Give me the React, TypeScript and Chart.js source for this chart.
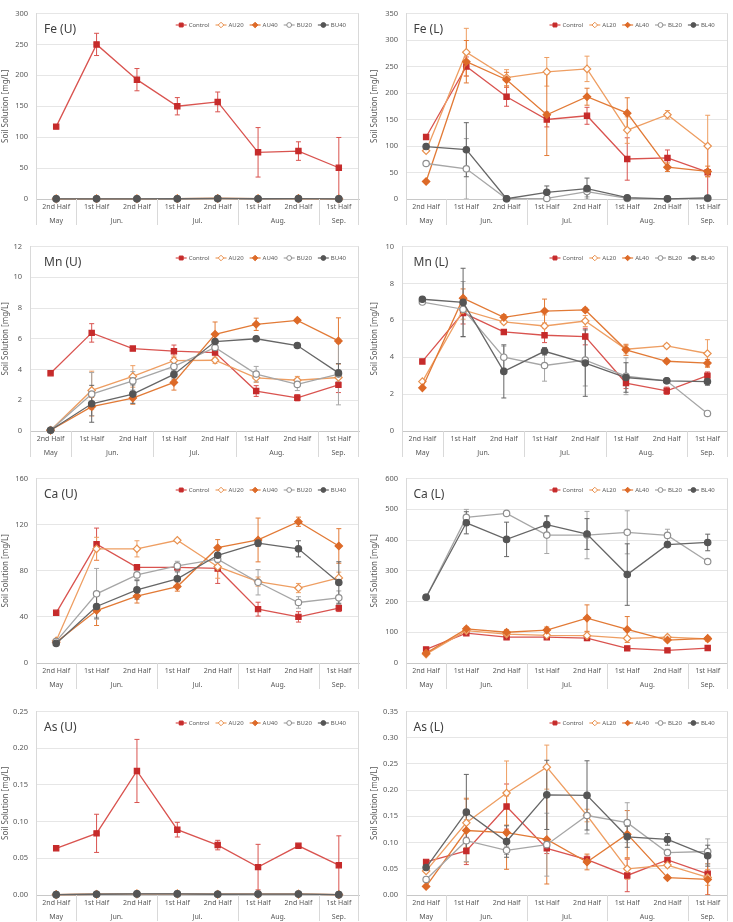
import React, { useEffect, useRef } from 'react';
import { Chart, registerables } from 'chart.js';

Chart.register(...registerables);

const FONT = "'Noto Sans', 'DejaVu Sans', sans-serif";

// ---- categories ----
const subLabels = ['2nd Half', '1st Half', '2nd Half', '1st Half', '2nd Half', '1st Half', '2nd Half', '1st Half'];
const monthLabels = ['May', 'Jun.', 'Jul.', 'Aug.', 'Sep.'];
const monthSpans = [1, 2, 2, 2, 1];
const namesU = ['Control', 'AU20', 'AU40', 'BU20', 'BU40'];
const namesL = ['Control', 'AL20', 'AL40', 'BL20', 'BL40'];
const yTitle = 'Soil Solution [mg/L]';

// ---- Fe (U) ----
const feU_Control = [117, 250, 193, 150, 157, 75.5, 77.5, 50.5];
const feU_ControlErr = [0, 18, 18, 14, 16, 40, 15, 49];
const feU_AU20 = [0.3, 0.5, 0.5, 0.6, 0.8, 0.6, 0.6, 0.3];
const feU_AU40 = [0.2, 0.4, 0.4, 0.5, 0.9, 0.5, 0.7, 0.2];
const feU_BU20 = [0.2, 0.3, 0.3, 0.4, 0.6, 0.4, 0.5, 0.2];
const feU_BU40 = [0.3, 0.3, 0.3, 0.4, 0.9, 0.4, 0.6, 0.2];
const feU_SmallErr = [0, 0, 0, 0, 0, 0, 0, 0];

// ---- Fe (L) ----
const feL_Control = [117, 250, 193, 150, 157, 75.5, 77.5, 50.5];
const feL_ControlErr = [0, 18, 18, 14, 16, 40, 15, 49];
const feL_AL20 = [91, 277, 229, 240, 245.5, 130, 159, 100];
const feL_AL20Err = [0, 45, 15, 27, 24, 25, 8, 58];
const feL_AL40 = [33, 259, 225, 159, 193, 162, 60, 52];
const feL_AL40Err = [0, 40, 14, 77, 16, 29, 8, 10];
const feL_BL20 = [67, 57, 0.5, 1, 14, 1, 0.3, 1];
const feL_BL20Err = [0, 57, 0, 1, 10, 1, 0, 1];
const feL_BL40 = [99, 93, 0.5, 12.6, 19.5, 2.5, 0.3, 2];
const feL_BL40Err = [0, 51, 0, 12, 20, 2, 0, 2];

// ---- Mn (U) ----
const mnU_Control = [3.76, 6.38, 5.36, 5.19, 5.1, 2.6, 2.16, 3.0];
const mnU_ControlErr = [0, 0.6, 0.08, 0.4, 0.4, 0.35, 0.2, 0.5];
const mnU_AU20 = [0.05, 2.64, 3.55, 4.58, 4.6, 3.46, 3.3, 3.48];
const mnU_AU20Err = [0, 1.25, 0.7, 0.3, 0.2, 0.3, 0.25, 0.4];
const mnU_AU40 = [0.05, 1.58, 2.14, 3.16, 6.29, 6.94, 7.2, 5.86];
const mnU_AU40Err = [0, 0.6, 0.4, 0.5, 0.8, 0.4, 0.1, 1.5];
const mnU_BU20 = [0.05, 2.4, 3.26, 4.2, 5.43, 3.7, 3.03, 3.7];
const mnU_BU20Err = [0, 1.4, 0.6, 0.3, 0.3, 0.5, 0.4, 2.0];
const mnU_BU40 = [0.05, 1.77, 2.4, 3.68, 5.82, 6.0, 5.56, 3.78];
const mnU_BU40Err = [0, 1.2, 0.6, 0.3, 0.4, 0.1, 0.1, 0.6];

// ---- Mn (L) ----
const mnL_Control = [3.77, 6.4, 5.37, 5.19, 5.12, 2.6, 2.18, 3.0];
const mnL_ControlErr = [0, 0.6, 0.1, 0.4, 0.45, 0.3, 0.2, 0.2];
const mnL_AL20 = [2.68, 6.56, 5.91, 5.69, 5.96, 4.43, 4.61, 4.2];
const mnL_AL20Err = [0, 0.5, 0.1, 0.6, 0.3, 0.2, 0.1, 0.75];
const mnL_AL40 = [2.34, 7.2, 6.16, 6.5, 6.56, 4.4, 3.78, 3.68];
const mnL_AL40Err = [0, 0.5, 0.15, 0.65, 0.1, 0.3, 0.1, 0.2];
const mnL_BL20 = [6.99, 6.6, 4.0, 3.55, 3.84, 2.97, 2.72, 0.95];
const mnL_BL20Err = [0, 1.5, 0.6, 0.85, 1.4, 1.0, 0.1, 0.1];
const mnL_BL40 = [7.14, 6.97, 3.23, 4.32, 3.68, 2.9, 2.72, 2.68];
const mnL_BL40Err = [0, 1.85, 1.44, 0.2, 1.8, 0.8, 0.1, 0.2];

// ---- Ca (U) ----
const caU_Control = [43.5, 103, 83, 83, 82, 46.7, 40, 47.6];
const caU_ControlErr = [0, 14, 2, 3, 13, 6, 4.5, 3];
const caU_AU20 = [19.3, 99, 99, 106.4, 83.5, 70.6, 65, 73.8];
const caU_AU20Err = [0, 10, 7, 1.5, 10, 4, 4, 5];
const caU_AU40 = [18, 45.5, 58, 66.3, 100, 106.7, 122.5, 101.5];
const caU_AU40Err = [0, 13, 6, 4, 7, 19, 4, 15];
const caU_BU20 = [18.7, 60, 76.4, 84.2, 90, 70, 52.5, 56.5];
const caU_BU20Err = [0, 22, 4, 4, 3, 11, 5, 6];
const caU_BU40 = [17, 49, 63.4, 73, 93.4, 104, 99, 69.8];
const caU_BU40Err = [0, 10, 8, 6, 4, 3, 7, 18];

// ---- Ca (L) ----
const caL_Control = [44, 97, 84, 84, 81, 47.6, 41, 48.6];
const caL_ControlErr = [0, 5, 5, 5, 8, 4, 3, 3];
const caL_AL20 = [29, 105, 94, 90, 89, 80, 84, 78];
const caL_AL20Err = [0, 8, 6, 4, 12, 6, 6, 8];
const caL_AL40 = [32, 111, 100, 107, 146, 109, 74.6, 80];
const caL_AL40Err = [0, 6, 8, 10, 43, 42, 5, 6];
const caL_BL20 = [214, 473.5, 486.5, 416, 416, 425, 415, 330];
const caL_BL20Err = [0, 26, 4, 60, 77, 70, 20, 3];
const caL_BL40 = [214, 456, 402, 450, 419.5, 287.6, 385, 392];
const caL_BL40Err = [0, 36, 56, 29, 50, 100, 6, 27];

// ---- As (U) ----
const asU_Control = [0.0636, 0.084, 0.169, 0.089, 0.068, 0.038, 0.067, 0.0406];
const asU_ControlErr = [0, 0.026, 0.043, 0.01, 0.0065, 0.031, 0.001, 0.04];
const asU_AU20 = [0.0005, 0.001, 0.0015, 0.0015, 0.001, 0.0012, 0.0012, 0.0005];
const asU_AU40 = [0.0005, 0.001, 0.0015, 0.0015, 0.001, 0.0012, 0.0012, 0.0005];
const asU_BU20 = [0.0005, 0.001, 0.0015, 0.0015, 0.001, 0.0012, 0.0012, 0.0005];
const asU_BU40 = [0.0005, 0.001, 0.0015, 0.0015, 0.001, 0.0012, 0.0012, 0.0005];
const asU_SmallErr = [0, 0, 0, 0, 0, 0, 0, 0];

// ---- As (L) ----
const asL_Control = [0.0632, 0.084, 0.1687, 0.089, 0.0676, 0.0373, 0.067, 0.0404];
const asL_ControlErr = [0, 0.026, 0.043, 0.01, 0.0065, 0.031, 0.002, 0.04];
const asL_AL20 = [0.046, 0.1377, 0.1946, 0.2439, 0.1516, 0.05, 0.057, 0.0335];
const asL_AL20Err = [0, 0.047, 0.061, 0.042, 0.012, 0.02, 0.004, 0.015];
const asL_AL40 = [0.0164, 0.123, 0.119, 0.106, 0.063, 0.116, 0.033, 0.0297];
const asL_AL40Err = [0, 0.06, 0.07, 0.085, 0.015, 0.045, 0.003, 0.03];
const asL_BL20 = [0.0297, 0.1036, 0.0853, 0.096, 0.1516, 0.138, 0.081, 0.083];
const asL_BL20Err = [0, 0.04, 0.008, 0.06, 0.035, 0.038, 0.006, 0.024];
const asL_BL40 = [0.0524, 0.158, 0.102, 0.191, 0.19, 0.111, 0.106, 0.075];
const asL_BL40Err = [0, 0.072, 0.03, 0.066, 0.066, 0.02, 0.011, 0.02];

type Series = { values: number[]; errs: number[] };
type PanelCfg = {
  title: string;
  col: number;
  plotTop: number;
  plotBottom: number;
  plotLeft: number;
  plotRight: number;
  max: number;
  step: number;
  decimals: number;
  names: string[];
  series: Series[];
};

const styles = [
  { line: '#D9534F', marker: '#C62B2B', fill: '#C62B2B', shape: 'rect', r: 3.7 },
  { line: '#EE9E62', marker: '#E8914F', fill: '#FFFFFF', shape: 'rectRot', r: 3.7 },
  { line: '#E27A36', marker: '#DD6A28', fill: '#DD6A28', shape: 'rectRot', r: 3.7 },
  { line: '#A6A6A6', marker: '#8F8F8F', fill: '#FFFFFF', shape: 'circle', r: 3.2 },
  { line: '#666666', marker: '#555555', fill: '#555555', shape: 'circle', r: 3.2 },
];

const panels: PanelCfg[] = [
  {
    title: 'Fe (U)', col: 0, plotTop: 13, plotBottom: 199, plotLeft: 36, plotRight: 359,
    max: 300, step: 50, decimals: 0, names: namesU,
    series: [
      { values: feU_Control, errs: feU_ControlErr },
      { values: feU_AU20, errs: feU_SmallErr },
      { values: feU_AU40, errs: feU_SmallErr },
      { values: feU_BU20, errs: feU_SmallErr },
      { values: feU_BU40, errs: feU_SmallErr },
    ],
  },
  {
    title: 'Fe (L)', col: 1, plotTop: 13, plotBottom: 199, plotLeft: 406, plotRight: 728,
    max: 350, step: 50, decimals: 0, names: namesL,
    series: [
      { values: feL_Control, errs: feL_ControlErr },
      { values: feL_AL20, errs: feL_AL20Err },
      { values: feL_AL40, errs: feL_AL40Err },
      { values: feL_BL20, errs: feL_BL20Err },
      { values: feL_BL40, errs: feL_BL40Err },
    ],
  },
  {
    title: 'Mn (U)', col: 0, plotTop: 246, plotBottom: 431, plotLeft: 30, plotRight: 359,
    max: 12, step: 2, decimals: 0, names: namesU,
    series: [
      { values: mnU_Control, errs: mnU_ControlErr },
      { values: mnU_AU20, errs: mnU_AU20Err },
      { values: mnU_AU40, errs: mnU_AU40Err },
      { values: mnU_BU20, errs: mnU_BU20Err },
      { values: mnU_BU40, errs: mnU_BU40Err },
    ],
  },
  {
    title: 'Mn (L)', col: 1, plotTop: 246, plotBottom: 431, plotLeft: 402, plotRight: 728,
    max: 10, step: 2, decimals: 0, names: namesL,
    series: [
      { values: mnL_Control, errs: mnL_ControlErr },
      { values: mnL_AL20, errs: mnL_AL20Err },
      { values: mnL_AL40, errs: mnL_AL40Err },
      { values: mnL_BL20, errs: mnL_BL20Err },
      { values: mnL_BL40, errs: mnL_BL40Err },
    ],
  },
  {
    title: 'Ca (U)', col: 0, plotTop: 478, plotBottom: 663, plotLeft: 36, plotRight: 359,
    max: 160, step: 40, decimals: 0, names: namesU,
    series: [
      { values: caU_Control, errs: caU_ControlErr },
      { values: caU_AU20, errs: caU_AU20Err },
      { values: caU_AU40, errs: caU_AU40Err },
      { values: caU_BU20, errs: caU_BU20Err },
      { values: caU_BU40, errs: caU_BU40Err },
    ],
  },
  {
    title: 'Ca (L)', col: 1, plotTop: 478, plotBottom: 663, plotLeft: 406, plotRight: 728,
    max: 600, step: 100, decimals: 0, names: namesL,
    series: [
      { values: caL_Control, errs: caL_ControlErr },
      { values: caL_AL20, errs: caL_AL20Err },
      { values: caL_AL40, errs: caL_AL40Err },
      { values: caL_BL20, errs: caL_BL20Err },
      { values: caL_BL40, errs: caL_BL40Err },
    ],
  },
  {
    title: 'As (U)', col: 0, plotTop: 711, plotBottom: 895, plotLeft: 36, plotRight: 359,
    max: 0.25, step: 0.05, decimals: 2, names: namesU,
    series: [
      { values: asU_Control, errs: asU_ControlErr },
      { values: asU_AU20, errs: asU_SmallErr },
      { values: asU_AU40, errs: asU_SmallErr },
      { values: asU_BU20, errs: asU_SmallErr },
      { values: asU_BU40, errs: asU_SmallErr },
    ],
  },
  {
    title: 'As (L)', col: 1, plotTop: 711, plotBottom: 895, plotLeft: 406, plotRight: 728,
    max: 0.35, step: 0.05, decimals: 2, names: namesL,
    series: [
      { values: asL_Control, errs: asL_ControlErr },
      { values: asL_AL20, errs: asL_AL20Err },
      { values: asL_AL40, errs: asL_AL40Err },
      { values: asL_BL20, errs: asL_BL20Err },
      { values: asL_BL40, errs: asL_BL40Err },
    ],
  },
];

function drawMarker(ctx: CanvasRenderingContext2D, shape: string, x: number, y: number, r: number, fill: string, stroke: string, lw: number) {
  ctx.beginPath();
  if (shape === 'rect') {
    const s = r * Math.SQRT1_2;
    ctx.rect(x - s, y - s, 2 * s, 2 * s);
  } else if (shape === 'rectRot') {
    ctx.moveTo(x - r, y);
    ctx.lineTo(x, y - r);
    ctx.lineTo(x + r, y);
    ctx.lineTo(x, y + r);
    ctx.closePath();
  } else {
    ctx.arc(x, y, r, 0, Math.PI * 2);
  }
  ctx.fillStyle = fill;
  ctx.fill();
  ctx.lineWidth = lw;
  ctx.strokeStyle = stroke;
  ctx.stroke();
}

function makePlugin(cfg: PanelCfg, titleX: number) {
  return {
    id: 'panelDeco',
    beforeDatasetsDraw(chart: any) {
      const { ctx, chartArea: ca } = chart;
      const ys = chart.scales.y;
      ctx.save();
      ctx.beginPath();
      ctx.rect(ca.left, ca.top - 1, ca.right - ca.left, ca.bottom - ca.top + 1);
      ctx.clip();
      cfg.series.forEach((s, di) => {
        const meta = chart.getDatasetMeta(di);
        const st = styles[di];
        ctx.strokeStyle = st.line;
        ctx.lineWidth = 1;
        s.values.forEach((v, i) => {
          const e = s.errs[i];
          if (!e) return;
          const x = meta.data[i].x;
          const yt = ys.getPixelForValue(v + e);
          const yb = ys.getPixelForValue(v - e);
          ctx.beginPath();
          ctx.moveTo(x, yt);
          ctx.lineTo(x, yb);
          ctx.moveTo(x - 2.5, yt);
          ctx.lineTo(x + 2.5, yt);
          ctx.moveTo(x - 2.5, yb);
          ctx.lineTo(x + 2.5, yb);
          ctx.stroke();
        });
      });
      ctx.restore();
    },
    afterDraw(chart: any) {
      const { ctx, chartArea: ca } = chart;
      const xs = chart.scales.x;
      const n = subLabels.length;
      ctx.save();
      ctx.strokeStyle = '#D9D9D9';
      ctx.lineWidth = 1;
      // right edge of plot area
      const rx = Math.round(ca.right) - 0.5;
      ctx.beginPath();
      ctx.moveTo(rx, ca.top);
      ctx.lineTo(rx, ca.bottom);
      ctx.stroke();
      // group separators
      const bounds: number[] = [0];
      let acc = 0;
      monthSpans.forEach((s) => { acc += s; bounds.push(acc); });
      bounds.forEach((k) => {
        let x: number;
        if (k === 0) x = ca.left;
        else if (k === n) x = ca.right;
        else x = (xs.getPixelForTick(k - 1) + xs.getPixelForTick(k)) / 2;
        x = Math.round(x) + (k === n ? -0.5 : 0.5);
        ctx.beginPath();
        ctx.moveTo(x, ca.bottom);
        ctx.lineTo(x, ca.bottom + 26);
        ctx.stroke();
      });
      // month labels
      ctx.fillStyle = '#595959';
      ctx.font = `7px ${FONT}`;
      ctx.textAlign = 'center';
      ctx.textBaseline = 'middle';
      let start = 0;
      monthLabels.forEach((m, gi) => {
        const end = start + monthSpans[gi] - 1;
        const cx = (xs.getPixelForTick(start) + xs.getPixelForTick(end)) / 2;
        ctx.fillText(m, cx, ca.bottom + 22);
        start = end + 1;
      });
      // panel title
      ctx.fillStyle = '#404040';
      ctx.font = `12px ${FONT}`;
      ctx.textAlign = 'left';
      ctx.fillText(cfg.title, titleX, ca.top + 16);
      // legend
      ctx.font = `6px ${FONT}`;
      const lineLen = 11;
      const gapLine = 2;
      const gapItem = 6;
      const widths = cfg.names.map((nm) => ctx.measureText(nm).width);
      const total = widths.reduce((a, w) => a + lineLen + gapLine + w, 0) + gapItem * (widths.length - 1);
      let lx = ca.right - 13 - total;
      const ly = ca.top + 11.5;
      cfg.names.forEach((nm, i) => {
        const st = styles[i];
        ctx.strokeStyle = st.line;
        ctx.lineWidth = 1.2;
        ctx.beginPath();
        ctx.moveTo(lx, ly);
        ctx.lineTo(lx + lineLen, ly);
        ctx.stroke();
        drawMarker(ctx, st.shape, lx + lineLen / 2, ly, st.r * 0.75, st.fill, st.marker, 1);
        ctx.fillStyle = '#595959';
        ctx.textAlign = 'left';
        ctx.textBaseline = 'middle';
        ctx.fillText(nm, lx + lineLen + gapLine, ly);
        lx += lineLen + gapLine + widths[i] + gapItem;
      });
      ctx.restore();
    },
  };
}

function Panel({ cfg }: { cfg: PanelCfg }) {
  const ref = useRef<HTMLCanvasElement | null>(null);
  const left = cfg.col * 366;
  const width = cfg.col ? 367 : 366;
  const top = cfg.plotTop - 12;
  const height = cfg.plotBottom - cfg.plotTop + 12 + 28;
  const yW = cfg.plotLeft - left;
  const padR = width - (cfg.plotRight - left);
  const titleX = cfg.col ? 47.5 : 44;

  useEffect(() => {
    if (!ref.current) return;
    const chart = new Chart(ref.current, {
      type: 'line',
      data: {
        labels: subLabels,
        datasets: cfg.series.map((s, i) => ({
          label: cfg.names[i],
          data: s.values,
          borderColor: styles[i].line,
          backgroundColor: styles[i].fill,
          borderWidth: 1.3,
          pointStyle: styles[i].shape as any,
          pointRadius: styles[i].r,
          pointBackgroundColor: styles[i].fill,
          pointBorderColor: styles[i].marker,
          pointBorderWidth: 1.2,
          tension: 0,
          clip: false as any,
          order: -i,
        })),
      },
      options: {
        responsive: false,
        animation: false,
        devicePixelRatio: 1,
        layout: { padding: { top: 12, left: 0, right: padR, bottom: 0 } },
        plugins: { legend: { display: false }, tooltip: { enabled: false } },
        events: [],
        scales: {
          x: {
            type: 'category',
            offset: true,
            grid: { display: false, drawTicks: false, tickLength: 0 },
            border: { display: true, color: '#C8C8C8' },
            ticks: {
              autoSkip: false,
              maxRotation: 0,
              minRotation: 0,
              padding: 4,
              color: '#595959',
              font: { family: FONT, size: 7 },
            },
            afterFit: (s: any) => { s.height = 28; },
          },
          y: {
            min: 0,
            max: cfg.max,
            grid: { color: '#E6E6E6', drawTicks: false },
            border: { display: true, color: '#D9D9D9' },
            ticks: {
              stepSize: cfg.step,
              padding: 8,
              color: '#595959',
              font: { family: FONT, size: 7.5 },
              callback: (v: any) => Number(v).toFixed(cfg.decimals),
            },
            title: {
              display: true,
              text: yTitle,
              color: '#595959',
              font: { family: FONT, size: 8 },
              padding: { top: cfg.col ? 3.5 : 0.5, bottom: 0 },
            },
            afterFit: (s: any) => { s.width = yW; },
          },
        },
      } as any,
      plugins: [makePlugin(cfg, titleX)],
    });
    return () => chart.destroy();
  }, []);

  return (
    <canvas
      ref={ref}
      width={width}
      height={height}
      style={{ position: 'absolute', left, top, width, height }}
    />
  );
}

export default function App() {
  return (
    <div
      style={{
        position: 'absolute',
        left: 0,
        top: 0,
        width: 733,
        height: 922,
        background: '#ffffff',
        overflow: 'hidden',
      }}
    >
      {panels.map((p) => (
        <Panel key={p.title} cfg={p} />
      ))}
    </div>
  );
}
